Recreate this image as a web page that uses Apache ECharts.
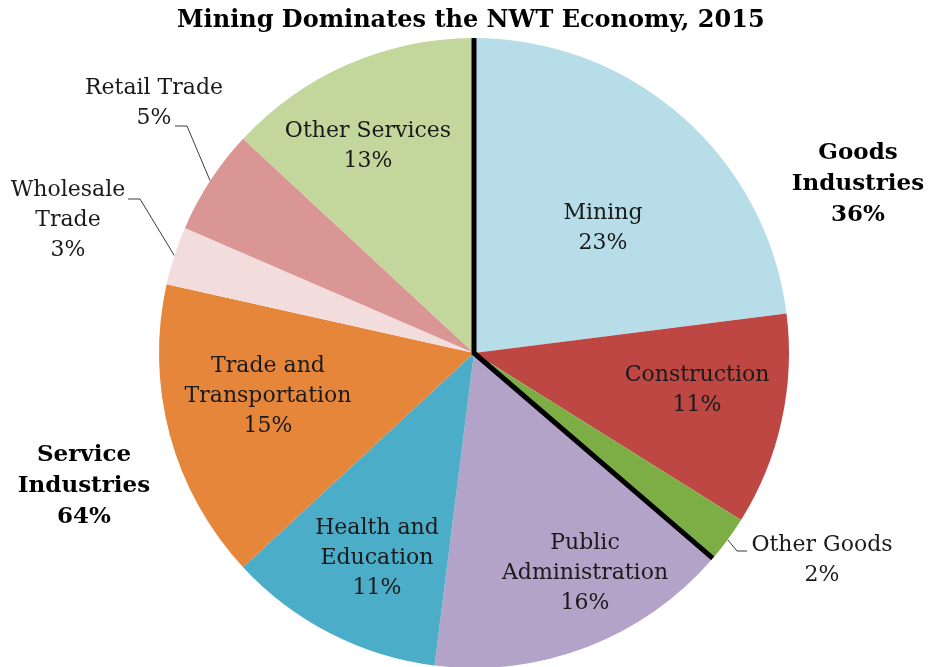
<!DOCTYPE html>
<html>
<head>
<meta charset="utf-8">
<title>Mining Dominates the NWT Economy, 2015</title>
<script src="https://cdn.jsdelivr.net/npm/echarts@6/dist/echarts.min.js"></script>
<style>
    html, body { margin: 0; padding: 0; background: #fff; }
    #nwt_chart { width: 929px; height: 667px; }
</style>
</head>
<body>
<div id="nwt_chart"></div>
<script>
// share of GDP by industry, clockwise from 12 o'clock
var sectors = ['Mining', 'Construction', 'Other Goods', 'Public\nAdministration', 'Health and\nEducation',
    'Trade and\nTransportation', 'Wholesale\nTrade', 'Retail Trade', 'Other Services'];
var shares = [23.0, 10.9, 2.4, 15.7, 11.1, 15.4, 3.0, 5.4, 13.1];
var groups = ['Goods\nIndustries', 'Service\nIndustries'];
var groupOf = [0, 0, 0, 1, 1, 1, 1, 1, 1];

var sliceColors = ['#b7dee8', '#be4744', '#7dae45', '#b4a3c9', '#4badc7', '#e5863b', '#f3dddc', '#d99694', '#c3d69b'];
var serif = '"DejaVu Serif", "Liberation Serif", serif';

// label block centres (text layout only)
var labelSpots = [[603, 228], [697, 390], [822, 560], [585, 573], [377, 558], [268, 396], [68, 220], [154, 103], [368, 146]];
var outsideLabels = { 2: [[737, 551], [747, 551]], 6: [[140, 199], [128, 199]], 7: [[187, 126], [175, 126]] };
var groupSpots = [[858, 184], [84, 486]];

var groupTotals = [0, 0];
shares.forEach(function (v, i) { groupTotals[groupOf[i]] += v; });
var goodsEnd = groupTotals[0];

var pieData = sectors.map(function (name, i) {
    var outside = outsideLabels[i] != null;
    return {
        name: name,
        value: shares[i],
        itemStyle: { color: sliceColors[i] },
        label: { position: outside ? 'outside' : 'inside' },
        labelLine: { show: outside }
    };
});

var myChart = echarts.init(document.getElementById('nwt_chart'));
var option = {
    animation: false,
    title: {
        text: 'Mining Dominates the NWT Economy, 2015',
        left: 172,
        top: 4,
        textStyle: { fontFamily: serif, fontWeight: 'bold', fontSize: 24, color: '#000' }
    },
    polar: { center: [474, 353], radius: 315 },
    angleAxis: {
        type: 'value', min: 0, max: 100, startAngle: 90, clockwise: true,
        axisLine: { show: false }, axisTick: { show: false }, axisLabel: { show: false }, splitLine: { show: false }
    },
    radiusAxis: {
        type: 'value', min: 0, max: 1,
        axisLine: { show: false }, axisTick: { show: false }, axisLabel: { show: false }, splitLine: { show: false }
    },
    graphic: groups.map(function (g, i) {
        return {
            type: 'text',
            x: groupSpots[i][0],
            y: groupSpots[i][1],
            style: {
                text: g + '\n' + Math.round(groupTotals[i]) + '%',
                font: 'bold 23px ' + serif,
                lineHeight: 31,
                textAlign: 'center',
                textVerticalAlign: 'middle',
                fill: '#000'
            }
        };
    }),
    series: [
        {
            type: 'pie',
            center: [474, 353],
            radius: 315,
            startAngle: 90,
            clockwise: true,
            avoidLabelOverlap: false,
            silent: true,
            itemStyle: { borderWidth: 0 },
            label: {
                show: true,
                fontFamily: serif,
                fontSize: 22,
                lineHeight: 30,
                color: '#1a1a1a',
                align: 'center',
                formatter: function (p) {
                    return p.name + '\n' + Math.round(p.value) + '%';
                }
            },
            labelLine: { lineStyle: { color: '#3a3a3a', width: 1 } },
            labelLayout: function (p) {
                var spot = labelSpots[p.dataIndex];
                var out = { x: spot[0], y: spot[1], align: 'center', verticalAlign: 'middle' };
                var bend = outsideLabels[p.dataIndex];
                if (bend && p.labelLinePoints) {
                    out.labelLinePoints = [p.labelLinePoints[0], bend[0], bend[1]];
                }
                return out;
            },
            data: pieData
        },
        {
            // black divider between goods and service industries
            type: 'line',
            coordinateSystem: 'polar',
            symbol: 'none',
            silent: true,
            z: 5,
            lineStyle: { color: '#000', width: 5, join: 'miter' },
            data: [[1, 0], [0, 0], [1, goodsEnd]]
        }
    ]
};
myChart.setOption(option);
</script>
</body>
</html>
